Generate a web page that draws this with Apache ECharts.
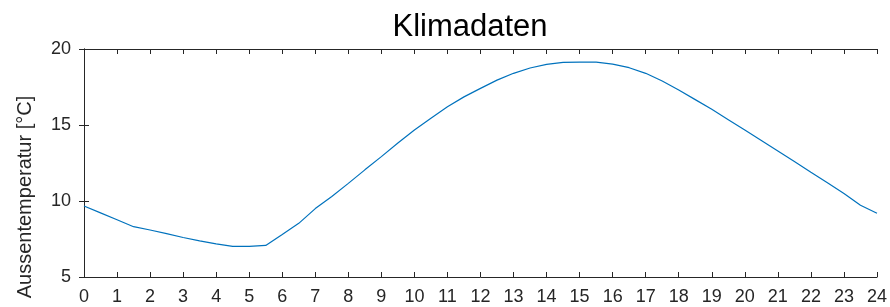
<!DOCTYPE html>
<html>
<head>
<meta charset="utf-8">
<script src="https://cdn.jsdelivr.net/npm/echarts@6/dist/echarts.min.js"></script>
<style>html,body{margin:0;padding:0;background:#fff}#c{width:890px;height:307px}</style>
</head>
<body>
<div id="c"></div>
<script>
const titleText = "Klimadaten";
const yAxisName = "Aussentemperatur [°C]";
const hours = [0,0.5,1,1.5,2,2.5,3,3.5,4,4.5,5,5.5,6,6.5,7,7.5,8,8.5,9,9.5,10,10.5,11,11.5,12,12.5,13,13.5,14,14.5,15,15.5,16,16.5,17,17.5,18,18.5,19,19.5,20,20.5,21,21.5,22,22.5,23,23.5,24];
const temps = [9.67,9.22,8.77,8.31,8.09,7.85,7.6,7.38,7.18,7.02,7.02,7.08,7.8,8.53,9.5,10.3,11.16,12.05,12.92,13.82,14.67,15.45,16.2,16.85,17.41,17.95,18.4,18.75,18.99,19.12,19.14,19.14,19.01,18.77,18.4,17.89,17.3,16.67,16.03,15.35,14.67,13.98,13.29,12.6,11.89,11.2,10.5,9.72,9.19];

const axisColor = '#262626';
const font = 'Liberation Sans, Arial, sans-serif';
const chart = echarts.init(document.getElementById('c'), null, {renderer:'canvas'});
const common = {
  axisLine:{show:true,lineStyle:{color:axisColor,width:1}},
  axisTick:{show:true,inside:true,length:5,lineStyle:{color:axisColor}},
  splitLine:{show:false}
};
chart.setOption({
  animation:false,
  title:{text:titleText,left:465,textAlign:'center',top:7,textStyle:{fontFamily:font,fontSize:31,fontWeight:'normal',color:'#000'}},
  grid:{left:84,right:6,top:49,bottom:30,containLabel:false},
  graphic:[{
    type:'text',x:25,y:197,rotation:Math.PI/2,
    style:{text:yAxisName,fill:axisColor,font:'20px ' + font,textAlign:'center',textVerticalAlign:'middle'}
  }],
  xAxis:[
    Object.assign({type:'value',min:0,max:24,interval:1,position:'bottom',
      axisLabel:{color:axisColor,fontFamily:font,fontSize:18,margin:11}},common),
    Object.assign({type:'value',min:0,max:24,interval:1,position:'top',
      axisLabel:{show:false}},common)
  ],
  yAxis:[
    Object.assign({type:'value',min:5,max:20,interval:5,position:'left',
      axisLabel:{color:axisColor,fontFamily:font,fontSize:18,margin:13}},common),
    Object.assign({type:'value',min:5,max:20,interval:5,position:'right',
      axisLabel:{show:false}},common)
  ],
  series:[{
    type:'line',xAxisIndex:0,yAxisIndex:0,
    data:hours.map((h,i)=>[h,temps[i]]),
    showSymbol:false,symbol:'none',
    lineStyle:{color:'#0072BD',width:1.2}
  }]
});
</script>
</body>
</html>
